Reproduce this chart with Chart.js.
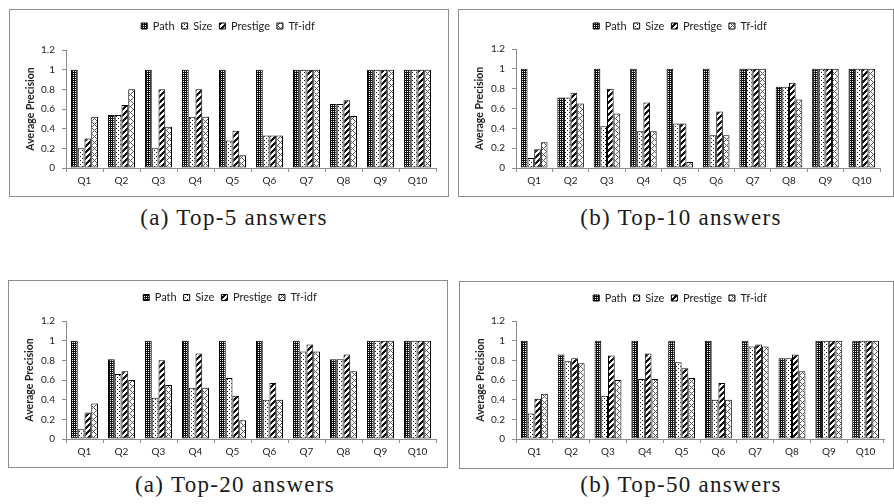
<!DOCTYPE html>
<html><head><meta charset="utf-8">
<script src="https://cdn.jsdelivr.net/npm/chart.js@4.4.1/dist/chart.umd.min.js"></script>
<style>
body{margin:0;background:#fff;width:894px;height:504px;position:relative;overflow:hidden;}
.frame{position:absolute;border:1px solid #8c8c8c;box-sizing:border-box;background:#fff;}
.frame canvas{display:block;}
.cap{position:absolute;font-family:"Liberation Serif",serif;font-size:23px;letter-spacing:1.3px;color:#1a1a1a;text-align:center;white-space:nowrap;line-height:23px;width:300px;}
</style></head><body>
<div class="frame" style="left:9px;top:9px;width:440px;height:188px"><canvas id="c1" width="438" height="186"></canvas></div>
<div class="frame" style="left:458px;top:9px;width:436px;height:188px"><canvas id="c2" width="434" height="186"></canvas></div>
<div class="frame" style="left:8px;top:280px;width:440px;height:188px"><canvas id="c3" width="438" height="186"></canvas></div>
<div class="frame" style="left:459px;top:281px;width:435px;height:188px"><canvas id="c4" width="433" height="186"></canvas></div>
<div class="cap" id="t1" style="left:84px;top:206px"></div>
<div class="cap" id="t2" style="left:531px;top:206px"></div>
<div class="cap" id="t3" style="left:85px;top:473px"></div>
<div class="cap" id="t4" style="left:531px;top:473px"></div>
<script>
const categories = ['Q1','Q2','Q3','Q4','Q5','Q6','Q7','Q8','Q9','Q10'];
const seriesNames = ['Path','Size','Prestige','Tf-idf'];
const yTickValues = [0, 0.2, 0.4, 0.6, 0.8, 1, 1.2];
const yTickLabels = ['0','0.2','0.4','0.6','0.8','1','1.2'];
const yTitle = 'Average Precision';
const captions = ['(a) Top-5 answers','(b) Top-10 answers','(a) Top-20 answers','(b) Top-50 answers'];

const top5Path     = [1, 0.54, 1, 1, 1, 1, 1, 0.65, 1, 1];
const top5Size     = [0.2, 0.54, 0.2, 0.52, 0.28, 0.33, 1, 0.65, 1, 1];
const top5Prestige = [0.3, 0.64, 0.8, 0.8, 0.38, 0.33, 1, 0.69, 1, 1];
const top5Tfidf    = [0.52, 0.8, 0.42, 0.52, 0.13, 0.33, 1, 0.53, 1, 1];

const top10Path     = [1, 0.71, 1, 1, 1, 1, 1, 0.82, 1, 1];
const top10Size     = [0.1, 0.71, 0.42, 0.37, 0.45, 0.33, 1, 0.82, 1, 1];
const top10Prestige = [0.19, 0.76, 0.8, 0.66, 0.45, 0.57, 1, 0.86, 1, 1];
const top10Tfidf    = [0.26, 0.65, 0.55, 0.37, 0.06, 0.33, 1, 0.69, 1, 1];

const top20Path     = [1, 0.81, 1, 1, 1, 1, 1, 0.81, 1, 1];
const top20Size     = [0.1, 0.66, 0.42, 0.52, 0.62, 0.4, 0.89, 0.81, 1, 1];
const top20Prestige = [0.27, 0.69, 0.8, 0.87, 0.44, 0.57, 0.96, 0.86, 1, 1];
const top20Tfidf    = [0.36, 0.6, 0.55, 0.52, 0.19, 0.4, 0.89, 0.69, 1, 1];

const top50Path     = [1, 0.86, 1, 1, 1, 1, 1, 0.82, 1, 1];
const top50Size     = [0.26, 0.79, 0.44, 0.61, 0.78, 0.4, 0.94, 0.82, 1, 1];
const top50Prestige = [0.41, 0.82, 0.85, 0.87, 0.72, 0.57, 0.96, 0.86, 1, 1];
const top50Tfidf    = [0.46, 0.77, 0.6, 0.61, 0.62, 0.4, 0.94, 0.69, 1, 1];

function tile(size, fn, bg) {
  const c = document.createElement('canvas');
  c.width = size; c.height = size;
  const g = c.getContext('2d');
  g.fillStyle = bg; g.fillRect(0, 0, size, size);
  for (let y = 0; y < size; y++) for (let x = 0; x < size; x++) {
    const col = fn(x, y);
    if (col) { g.fillStyle = col; g.fillRect(x, y, 1, 1); }
  }
  return g.createPattern(c, 'repeat');
}
const patterns = [
  tile(4, (x, y) => ((x % 2 === 1) && (y % 2 === 1)) ? '#ffffff' : null, '#111111'),
  tile(4, (x, y) => ((x === 0 && y === 0) || (x === 2 && y === 2)) ? '#111111' : null, '#ffffff'),
  tile(6, (x, y) => ((x + y) % 6 < 3) ? '#111111' : null, '#ffffff'),
  tile(6, (x, y) => ((x + y) % 6 === 0 || (x - y + 60) % 6 === 0) ? '#555555' : null, '#ffffff')
];

const LEG_FONT = 11, LEG_PAD = 7, LEG_BOX = 6;

function makeChart(id, series, g) {
  const datasets = seriesNames.map((name, i) => ({
    label: name,
    data: series[i],
    backgroundColor: patterns[i],
    borderColor: '#000',
    borderWidth: 1,
    borderSkipped: false,
    barPercentage: 1,
    categoryPercentage: 0.73
  }));
  const fontTick = { family: 'Lato', size: 10 };
  return new Chart(document.getElementById(id), {
    type: 'bar',
    data: { labels: categories, datasets },
    options: {
      responsive: false,
      animation: false,
      devicePixelRatio: 1,
      layout: { padding: { left: 0, right: g.padRight, top: 0, bottom: 0 } },
      plugins: {
        tooltip: { enabled: false },
        legend: {
          position: 'top',
          labels: { boxWidth: LEG_BOX, boxHeight: LEG_BOX, padding: LEG_PAD, color: '#222', font: { family: 'Lato', size: LEG_FONT } }
        }
      },
      scales: {
        x: {
          offset: true,
          grid: { offset: true, drawOnChartArea: false, drawTicks: true, tickLength: 4, color: '#8c8c8c' },
          border: { display: true, color: '#8c8c8c' },
          ticks: { color: '#222', font: fontTick, padding: 3, maxRotation: 0 },
          afterFit: s => { s.height = g.xHeight; }
        },
        y: {
          min: 0, max: 1.2,
          afterBuildTicks: s => { s.ticks = yTickValues.map(v => ({ value: v })); },
          grid: { drawOnChartArea: false, drawTicks: true, tickLength: 4, color: '#8c8c8c' },
          border: { display: true, color: '#8c8c8c' },
          ticks: { color: '#222', font: fontTick, padding: 7,
                   callback: v => { const k = yTickValues.findIndex(t => Math.abs(t - v) < 1e-9); return k >= 0 ? yTickLabels[k] : ''; } },
          title: { display: true, text: yTitle, color: '#222', font: { family: 'Lato', size: 10.5, weight: 'bold' }, padding: { top: 14, bottom: 0 } },
          afterFit: s => { s.width = g.yWidth; }
        }
      }
    },
    plugins: [{
      id: 'fixLegend',
      afterInit(chart) {
        const lg = chart.legend;
        const orig = lg.fit;
        lg.fit = function () { orig.call(this); this.height = g.top; };
      },
      afterLayout(chart) {
        const lg = chart.legend;
        const natural = (lg.left + lg.right) / 2;
        const dx = g.legendCX - natural;
        const dy = g.legendY - (LEG_PAD + LEG_FONT / 2);
        lg.left += dx; lg.right += dx;
        lg.top += dy; lg.bottom += dy;
      }
    }]
  });
}

makeChart('c1', [top5Path, top5Size, top5Prestige, top5Tfidf], { yWidth: 56, top: 40, xHeight: 28, padRight: 12, legendCX: 218, legendY: 16 });
makeChart('c2', [top10Path, top10Size, top10Prestige, top10Tfidf], { yWidth: 57, top: 39, xHeight: 28, padRight: 13, legendCX: 221, legendY: 16 });
makeChart('c3', [top20Path, top20Size, top20Prestige, top20Tfidf], { yWidth: 57, top: 40, xHeight: 28, padRight: 11, legendCX: 221, legendY: 16.5 });
makeChart('c4', [top50Path, top50Size, top50Prestige, top50Tfidf], { yWidth: 56, top: 39, xHeight: 29, padRight: 9, legendCX: 220, legendY: 16 });

['t1','t2','t3','t4'].forEach((id, i) => { document.getElementById(id).textContent = captions[i]; });
</script>
</body></html>
